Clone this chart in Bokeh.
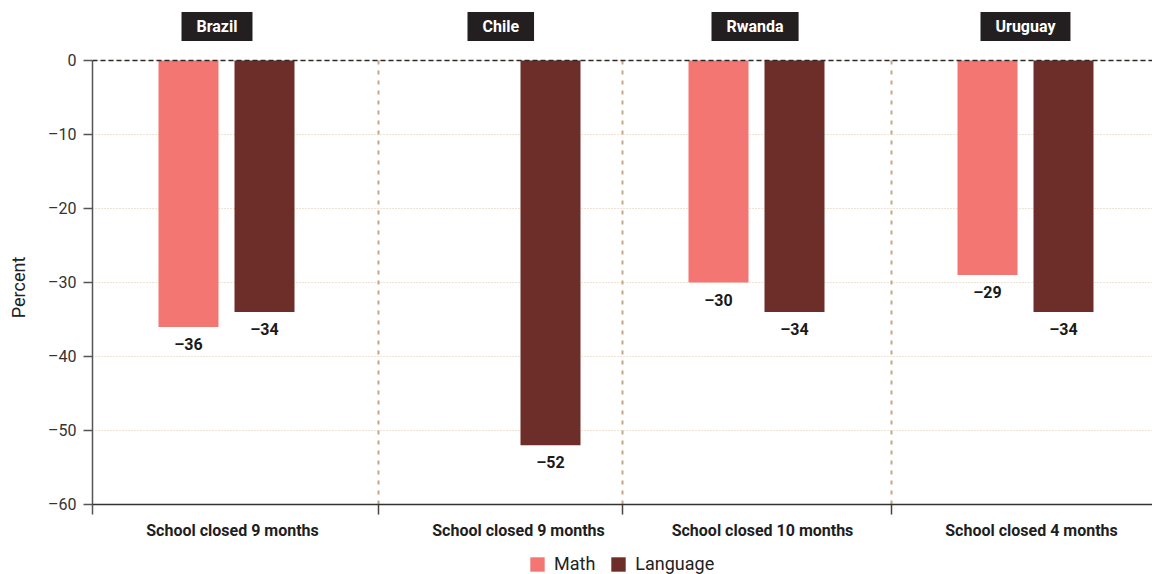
import math

from bokeh.plotting import figure
from bokeh.models import (ColumnDataSource, Range1d, FixedTicker, Span, Label,
                          Legend, LegendItem)
from bokeh.core.properties import value
from bokeh.embed import file_html
from bokeh.resources import INLINE

# --- data -----------------------------------------------------------------
countries = ["Brazil", "Chile", "Rwanda", "Uruguay"]
closures = ["School closed 9 months", "School closed 9 months",
            "School closed 10 months", "School closed 4 months"]
subjects = ["Math", "Language"]
math_change = [-36, None, -30, -29]          # no math score for Chile
language_change = [-34, -52, -34, -34]
y_ticks = [0, -10, -20, -30, -40, -50, -60]

# --- styling / layout -------------------------------------------------------
COLORS = {"Math": "#f47673", "Language": "#6d2e2a"}
FONT = "Roboto"
PANEL_WIDTHS = [286, 244, 269, 261]   # frame pixels per country panel
BAR_OFFSET = 96                       # first bar centre from a panel's left edge
BAR_STEP = 76
BAR_WIDTH = 60
CAPTION_OFFSET = 140                  # caption centre inside a panel
TAG_OFFSET = 89                       # country tag box start inside a panel
HEADROOM = 8.1                        # value units above zero for the country tags
FOOTROOM = 9.45                       # value units below the axis for captions/legend
TICK_LEN = 10                         # px

panel_left = [sum(PANEL_WIDTHS[:i]) for i in range(len(PANEL_WIDTHS))]
frame_w = sum(PANEL_WIDTHS)
y_low, y_high = min(y_ticks), max(y_ticks)
px_per_unit = 444 / (y_high - y_low)

p = figure(width=1152, height=574,
           x_range=Range1d(0, frame_w),
           y_range=Range1d(y_low - FOOTROOM, y_high + HEADROOM),
           x_axis_location=None,
           output_backend="svg", toolbar_location=None,
           min_border_left=92, min_border_right=0,
           min_border_top=0, min_border_bottom=0)
p.outline_line_color = None
p.background_fill_color = "white"
p.border_fill_color = "white"

# horizontal dotted grid
p.xgrid.visible = False
p.ygrid.grid_line_color = "#dfc7ab"
p.ygrid.grid_line_dash = "1 2"
p.ygrid.grid_line_width = 1

# y axis, drawn over the value range (line runs down past the base line)
p.yaxis.bounds = (y_low - TICK_LEN / px_per_unit, y_high)
p.yaxis.ticker = FixedTicker(ticks=y_ticks)
p.yaxis.major_label_overrides = {t: (f"–{abs(t)}" if t < 0 else str(t)) for t in y_ticks}
p.yaxis.axis_label = "Percent"
p.yaxis.axis_label_text_font = FONT
p.yaxis.axis_label_text_font_style = "normal"
p.yaxis.axis_label_text_font_size = "18px"
p.yaxis.axis_label_text_color = "#222222"
p.yaxis.axis_label_standoff = 16
p.yaxis.major_label_text_font = FONT
p.yaxis.major_label_text_font_size = "16px"
p.yaxis.major_label_text_color = "#333333"
p.yaxis.major_label_standoff = 7
p.yaxis.axis_line_color = "#555555"
p.yaxis.axis_line_width = 1.5
p.yaxis.major_tick_line_color = "#555555"
p.yaxis.major_tick_line_width = 1.5
p.yaxis.major_tick_out = 9
p.yaxis.major_tick_in = 0
p.yaxis.minor_tick_line_color = None

# base line with short ticks at the panel boundaries
p.add_layout(Span(location=y_low, dimension="width", line_color="#333333",
                  line_width=1.5))
divider_x = panel_left[1:]
p.ray(x=divider_x, y=[y_low] * len(divider_x), length=TICK_LEN, length_units="screen",
      angle=-math.pi / 2, line_color="#444444", line_width=1.5)

# captions under each panel
caption_src = ColumnDataSource(dict(x=[left + CAPTION_OFFSET for left in panel_left],
                                    y=[y_low] * len(panel_left), text=closures))
p.text(x="x", y="y", text="text", source=caption_src, text_align="center",
       text_baseline="top", y_offset=16, text_font=value(FONT),
       text_font_style="bold", text_font_size="16px", text_color="#1e1e1e")

# dashed dividers between country panels
p.segment(x0=divider_x, y0=[y_low] * len(divider_x), x1=divider_x,
          y1=[y_high] * len(divider_x), line_color="#c6a684",
          line_dash="4 6", line_width=2)

# bars and value labels
legend_items = []
for j, (subject, vals) in enumerate(zip(subjects, [math_change, language_change])):
    xs, tops, texts = [], [], []
    for i, v in enumerate(vals):
        if v is None:
            continue
        xs.append(panel_left[i] + BAR_OFFSET + j * BAR_STEP)
        tops.append(v)
        texts.append(f"–{abs(v)}")
    src = ColumnDataSource(dict(x=xs, top=tops, label=texts))
    r = p.vbar(x="x", top="top", bottom=0, width=BAR_WIDTH, source=src,
               fill_color=COLORS[subject], line_color=None)
    p.text(x="x", y="top", text="label", source=src, text_align="center",
           text_baseline="top", y_offset=8, text_font=value(FONT),
           text_font_style="bold", text_font_size="16px", text_color="#1a1a1a")
    legend_items.append(LegendItem(label=subject, renderers=[r]))

# zero reference line
p.add_layout(Span(location=0, dimension="width", line_color="#2a2a2a",
                  line_dash="5 3", line_width=1.5))

# country name tags above each panel
for i, country in enumerate(countries):
    p.add_layout(Label(x=panel_left[i] + TAG_OFFSET, y=0, y_offset=34,
                       text=country, text_align="left", text_baseline="middle",
                       text_font=FONT, text_font_style="bold", text_font_size="16px",
                       text_color="white", background_fill_color="#231f20",
                       padding=(15, 5)))

legend = Legend(items=legend_items, orientation="horizontal", location=(436, 0),
                glyph_width=18, glyph_height=18,
                label_text_font=FONT, label_text_font_size="18px",
                label_text_color="#222222", label_standoff=8, spacing=14,
                padding=0, margin=0, border_line_color=None,
                background_fill_alpha=0)
p.add_layout(legend)

open("out.html", "w").write(file_html(p, INLINE))
